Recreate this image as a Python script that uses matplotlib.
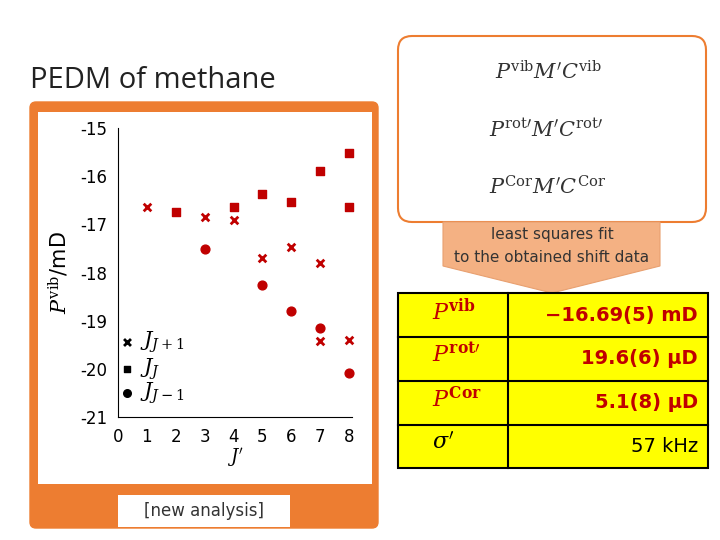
import matplotlib.pyplot as plt
from matplotlib.patches import FancyBboxPatch, Rectangle, Polygon

plt.rcParams['axes.unicode_minus'] = False
plt.rcParams['mathtext.fontset'] = 'dejavuserif'

# J_{J+1} (crosses)
xj_up = [1, 3, 4, 5, 6, 7, 7, 8]
yj_up = [-16.65, -16.85, -16.9, -17.7, -17.48, -17.8, -19.42, -19.4]
# J_J (squares)
xj_eq = [2, 4, 5, 6, 7, 8, 8]
yj_eq = [-16.75, -16.65, -16.38, -16.53, -15.9, -15.52, -16.63]
# J_{J-1} (circles)
xj_dn = [3, 5, 6, 7, 8]
yj_dn = [-17.52, -18.25, -18.8, -19.15, -20.08]

params = [r"$P^{\mathbf{vib}}$", r"$P^{\mathbf{rot}\prime}$", r"$P^{\mathbf{Cor}}$", r"$\sigma'$"]
values = ["\u221216.69(5) mD", "19.6(6) µD", "5.1(8) µD", "57 kHz"]
value_colors = ["#c00000", "#c00000", "#c00000", "black"]

W, H = 720, 540
fig = plt.figure(figsize=(7.2, 5.4), dpi=100)
bg = fig.add_axes([0, 0, 1, 1])
bg.set_xlim(0, W)
bg.set_ylim(H, 0)
bg.axis("off")

orange = "#ed7d31"
red = "#c00000"

bg.text(30, 80, "PEDM of methane", fontsize=21, va="center", ha="left", color="#222222",
        family="Open Sans")

# left orange panel
bg.add_patch(FancyBboxPatch((30, 102), 348, 426, boxstyle="round,pad=0,rounding_size=6",
                            fc=orange, ec=orange))
bg.add_patch(Rectangle((38, 112), 334, 372, fc="white", ec="none"))
bg.add_patch(Rectangle((118, 495), 172, 32, fc="white", ec="none"))
bg.text(204, 511, "[new analysis]", fontsize=12, ha="center", va="center", color="#333333")

# right rounded box with formulas
bg.add_patch(FancyBboxPatch((398, 36), 308, 186, boxstyle="round,pad=0,rounding_size=14",
                            fc="white", ec=orange, lw=1.5))
bg.text(495, 72, r"$P^{\rm vib}M'C^{\rm vib}$", fontsize=15, va="center", color="#333333")
bg.text(489, 130, r"$P^{\rm rot\prime}M'C^{\rm rot\prime}$", fontsize=15, va="center", color="#333333")
bg.text(489, 187, r"$P^{\rm Cor}M'C^{\rm Cor}$", fontsize=15, va="center", color="#333333")

# arrow
bg.add_patch(Polygon([(443, 222), (660, 222), (660, 266), (552, 293), (443, 266)],
                     closed=True, fc="#f4b183", ec="#e8a070", lw=0.8))
bg.text(552, 235, "least squares fit", fontsize=11, ha="center", va="center", color="#333333")
bg.text(552, 258, "to the obtained shift data", fontsize=11, ha="center", va="center", color="#333333")

# table
rows = [293, 337, 381, 425, 468]
bg.add_patch(Rectangle((398, 293), 310, 175, fc="#ffff00", ec="black", lw=1.5))
for r in rows[1:-1]:
    bg.plot([398, 708], [r, r], color="black", lw=1.5)
bg.plot([508, 508], [293, 468], color="black", lw=1.5)
for i in range(4):
    yc = (rows[i] + rows[i + 1]) / 2
    c = red if i < 3 else "black"
    bg.text(432, yc - 4, params[i], fontsize=16, va="center", color=c)
    bg.text(698, yc, values[i], fontsize=14, va="center", ha="right", color=value_colors[i],
            fontweight="bold" if i < 3 else "normal")

# data plot
ax = fig.add_axes([118 / W, 1 - 417 / H, 234 / W, 289 / H])
ax.scatter(xj_up, yj_up, marker="x", s=30, color=red, linewidths=2, zorder=3, clip_on=False)
ax.scatter(xj_eq, yj_eq, marker="s", s=40, color=red, zorder=3, clip_on=False)
ax.scatter(xj_dn, yj_dn, marker="o", s=40, color=red, zorder=3, clip_on=False)
ax.set_xlim(0, 8.1)
ax.set_ylim(-21, -15)
ax.set_xticks(range(9))
ax.set_yticks(range(-21, -14))
ax.tick_params(direction="in", length=0, labelsize=12, pad=8)
for s in ["top", "right"]:
    ax.spines[s].set_visible(False)
ax.set_xlabel(r"$J'$", fontsize=13, labelpad=0)
ax.set_ylabel(r"$P^{\rm vib}$/mD", fontsize=15, labelpad=6)

# legend drawn by hand with markers
ax.scatter([0.3], [-19.45], marker="x", s=25, color="black", linewidths=2)
ax.scatter([0.3], [-20.0], marker="s", s=25, color="black")
ax.scatter([0.3], [-20.5], marker="o", s=30, color="black")
ax.text(0.75, -19.45, r"$J_{J+1}$", fontsize=15, va="center")
ax.text(0.75, -20.0, r"$J_{J}$", fontsize=15, va="center")
ax.text(0.75, -20.5, r"$J_{J-1}$", fontsize=15, va="center")

fig.savefig("out.png", dpi=100)
